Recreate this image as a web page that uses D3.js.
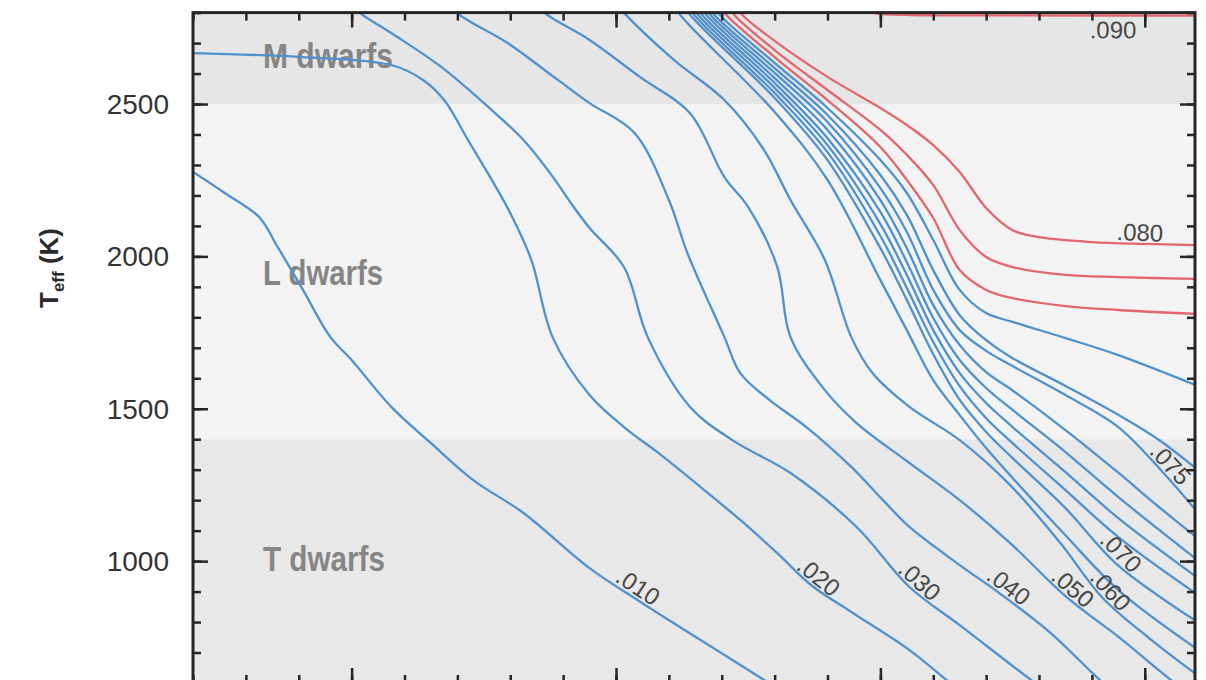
<!DOCTYPE html>
<html>
<head>
<meta charset="utf-8">
<script src="https://cdn.jsdelivr.net/npm/d3@7"></script>
<style>
  html, body { margin: 0; padding: 0; background: #ffffff; }
  svg { display: block; }
  text { font-family: "Liberation Sans", Arial, Helvetica, sans-serif; }
</style>
</head>
<body>
<svg id="chart" width="1206" height="680"></svg>
<script>
// Cooling tracks: effective temperature (K) against log10(age / yr),
// one track per mass (in solar masses).

const t010 = [[6.40,2277],[6.52,2208],[6.65,2129],[6.72,2031],[6.81,1899],[6.92,1735],[7.00,1660],[7.15,1506],[7.30,1387],[7.46,1266],[7.65,1158],[7.90,977],[8.10,862],[8.32,741],[8.56,610],[8.64,566]];
const t020 = [[6.40,2667],[6.81,2654],[7.15,2628],[7.27,2579],[7.35,2513],[7.44,2382],[7.53,2251],[7.60,2142],[7.68,1988],[7.76,1735],[7.90,1545],[8.03,1440],[8.16,1355],[8.32,1243],[8.47,1135],[8.61,1026],[8.74,920],[8.89,833],[9.11,708],[9.25,610],[9.30,575]];
const t030 = [[7.00,2830],[7.03,2800],[7.15,2733],[7.34,2621],[7.53,2480],[7.65,2382],[7.75,2274],[7.84,2162],[7.90,2093],[8.03,1965],[8.12,1735],[8.28,1506],[8.44,1397],[8.66,1289],[8.91,1112],[9.11,915],[9.30,790],[9.57,610],[9.62,580]];
const t040 = [[7.38,2830],[7.40,2799],[7.59,2700],[7.78,2579],[7.90,2503],[8.07,2405],[8.20,2185],[8.27,2011],[8.41,1735],[8.47,1617],[8.58,1529],[8.72,1440],[8.89,1309],[9.01,1200],[9.11,1112],[9.30,987],[9.45,895],[9.64,767],[9.83,610],[9.88,575]];
const t050 = [[7.70,2830],[7.73,2799],[7.90,2710],[8.09,2589],[8.28,2470],[8.41,2260],[8.50,2162],[8.61,1965],[8.66,1735],[8.79,1561],[8.91,1453],[9.11,1322],[9.30,1200],[9.49,1060],[9.70,885],[9.91,745],[10.13,590],[10.20,555]];
const t060 = [[8.00,2830],[8.03,2799],[8.22,2644],[8.41,2513],[8.56,2349],[8.66,2185],[8.79,1988],[8.89,1735],[8.97,1617],[9.11,1506],[9.30,1397],[9.49,1250],[9.68,1060],[9.84,880],[10.02,745],[10.20,625]];
const t065 = [[8.22,2830],[8.236,2800],[8.6,2474],[8.8,2251],[9.0,1922],[9.1,1758],[9.2,1594],[9.3,1479],[9.4,1371],[9.5,1273],[9.7,1085],[9.9,905],[10.20,710]];
const t070 = [[8.26,2830],[8.274,2800],[8.6,2520],[8.8,2316],[9.0,2027],[9.1,1857],[9.2,1679],[9.3,1529],[9.4,1424],[9.5,1338],[9.7,1174],[9.9,985],[10.20,800]];
const t071 = [[8.275,2830],[8.289,2800],[8.6,2536],[8.8,2342],[9.0,2067],[9.1,1896],[9.2,1719],[9.3,1574],[9.4,1469],[9.5,1387],[9.7,1233],[9.9,1079],[10.20,890]];
const t072 = [[8.29,2830],[8.304,2800],[8.6,2553],[8.8,2365],[9.0,2106],[9.1,1939],[9.2,1758],[9.3,1617],[9.4,1519],[9.5,1440],[9.7,1292],[9.9,1141],[10.20,945]];
const t073 = [[8.305,2830],[8.319,2800],[8.6,2569],[8.8,2388],[9.0,2146],[9.1,1981],[9.2,1798],[9.3,1660],[9.4,1568],[9.5,1496],[9.7,1358],[9.9,1210],[10.20,1003]];
const t074 = [[8.32,2830],[8.335,2800],[8.6,2585],[8.8,2415],[9.0,2185],[9.1,2027],[9.2,1840],[9.3,1709],[9.4,1620],[9.5,1560],[9.7,1430],[9.9,1290],[10.05,1180],[10.20,1075]];
const t075 = [[8.335,2830],[8.35,2800],[8.6,2602],[8.8,2441],[9.0,2224],[9.1,2080],[9.2,1890],[9.3,1758],[9.4,1690],[9.5,1640],[9.7,1545],[9.9,1440],[10.07,1290],[10.20,1160]];
const t076 = [[8.35,2830],[8.365,2800],[8.6,2618],[8.8,2464],[9.0,2267],[9.1,2136],[9.2,1955],[9.3,1807],[9.4,1725],[9.5,1666],[9.7,1575],[9.9,1480],[10.05,1400],[10.20,1300]];
const t077 = [[8.37,2830],[8.385,2800],[8.6,2635],[8.8,2487],[9.0,2316],[9.1,2208],[9.2,2054],[9.3,1890],[9.4,1814],[9.5,1785],[9.7,1732],[9.9,1676],[10.20,1575]];
const t078 = [[8.395,2830],[8.41,2800],[8.6,2654],[8.8,2513],[9.0,2359],[9.1,2251],[9.2,2126],[9.3,1955],[9.4,1890],[9.5,1863],[9.7,1837],[9.9,1824],[10.20,1811]];
const t079 = [[8.425,2830],[8.44,2800],[8.6,2677],[8.8,2546],[9.0,2415],[9.1,2333],[9.2,2234],[9.3,2086],[9.4,1998],[9.5,1965],[9.7,1939],[9.9,1932],[10.20,1926]];
const t080 = [[8.455,2830],[8.47,2800],[8.6,2707],[8.8,2589],[9.0,2487],[9.1,2431],[9.2,2365],[9.3,2277],[9.4,2159],[9.5,2086],[9.6,2063],[9.8,2047],[10.0,2041],[10.20,2037]];
const t090 = [[8.80,2900],[8.95,2805],[9.10,2793],[9.50,2791],[10.20,2790]];

const masses   = [0.010, 0.020, 0.030, 0.040, 0.050, 0.060, 0.065, 0.070, 0.071, 0.072, 0.073, 0.074, 0.075, 0.076, 0.077, 0.078, 0.079, 0.080, 0.090];
const tracks   = [t010, t020, t030, t040, t050, t060, t065, t070, t071, t072, t073, t074, t075, t076, t077, t078, t079, t080, t090];
const burnsH   = [false, false, false, false, false, false, false, false, false, false, false, false, false, false, false, true, true, true, true];

// Mass labels and the age at which each sits on its track
const labelMass = [0.010, 0.020, 0.030, 0.040, 0.050, 0.060, 0.070, 0.075, 0.080, 0.090];
const labelAge  = [8.06, 8.74, 9.12, 9.46, 9.70, 9.84, 9.88, 10.066, 9.98, 9.88];
const labelSide = [-1, -1, -1, -1, -1, -1, -1, -1, -1, 1];

// Spectral-class temperature bands
const bandName  = ["M dwarfs", "L dwarfs", "T dwarfs"];
const bandTop   = [2800, 2500, 1400];
const bandBot   = [2500, 1400, 600];
const bandFill  = ["#e6e6e6", "#f3f3f3", "#e8e8e8"];
const bandTextT = [2618, 1905, 968];

const yMajor = [1000, 1500, 2000, 2500];
const yMinor = d3.range(600, 2801, 100);
const xMajor = [7, 8, 9, 10];
const xMinor = d3.range(6.4, 10.2, 0.2).map(v => +v.toFixed(1));

const svg = d3.select("#chart");
const L = 193, R = 1195, T = 12.6, B = 683;

const x = d3.scaleLinear().domain([6.4, 10.19]).range([L, R]);
const y = d3.scaleLinear().domain([600, 2800]).range([B, T]);

svg.append("defs").append("clipPath").attr("id", "plot")
  .append("rect").attr("x", L).attr("y", T).attr("width", R - L).attr("height", B - T);

// bands
svg.append("g").selectAll("rect").data(bandName).join("rect")
  .attr("x", L).attr("width", R - L)
  .attr("y", (d, i) => y(bandTop[i]))
  .attr("height", (d, i) => y(bandBot[i]) - y(bandTop[i]))
  .attr("fill", (d, i) => bandFill[i]);

svg.append("g").selectAll("text").data(bandName).join("text")
  .attr("x", 263).attr("y", (d, i) => y(bandTextT[i]))
  .attr("font-size", 35).attr("font-weight", "bold").attr("fill", "#858585")
  .attr("textLength", (d, i) => [130, 120, 122][i]).attr("lengthAdjust", "spacingAndGlyphs")
  .text(d => d);

// tracks
const line = d3.line().x(d => x(d[0])).y(d => y(d[1])).curve(d3.curveCatmullRom.alpha(0.5));
svg.append("g").attr("clip-path", "url(#plot)")
  .selectAll("path").data(tracks).join("path")
  .attr("d", line)
  .attr("fill", "none")
  .attr("stroke", (d, i) => burnsH[i] ? "#e3666c" : "#4f91cc")
  .attr("stroke-width", 2.3)
  .attr("stroke-linejoin", "round");

// mass labels along the tracks
function tempAt(track, a) {
  for (let k = 0; k < track.length - 1; k++) {
    const p = track[k], q = track[k + 1];
    if (a >= p[0] && a <= q[0]) return p[1] + (q[1] - p[1]) * (a - p[0]) / (q[0] - p[0]);
  }
  return track[track.length - 1][1];
}
const fmt = m => d3.format(".3f")(m).replace(/^0/, "");
svg.append("g").selectAll("text").data(labelMass).join("text")
  .each(function (m, i) {
    const tr = tracks[masses.indexOf(m)];
    const a = labelAge[i];
    const px = x(a), py = y(tempAt(tr, a));
    const dx = x(a + 0.04) - x(a - 0.04);
    const dy = y(tempAt(tr, a + 0.04)) - y(tempAt(tr, a - 0.04));
    const ang = Math.atan2(dy, dx) * 180 / Math.PI;
    d3.select(this)
      .attr("transform", `translate(${px},${py}) rotate(${ang})`)
      .attr("text-anchor", "middle")
      .attr("dy", labelSide[i] < 0 ? "-0.12em" : "0.95em")
      .attr("font-size", 24).attr("fill", "#474747")
      .text(fmt(m));
  });

// frame and ticks (pointing inward on all four sides)
function ticks(axis, tr, vals, len) {
  const g = svg.append("g").attr("transform", tr)
    .call(axis.tickValues(vals).tickSize(len).tickFormat(""));
  g.select(".domain").remove();
  g.selectAll("line").attr("stroke", "#262626").attr("stroke-width", 2.5);
  return g;
}
ticks(d3.axisLeft(y), `translate(${L},0)`, yMinor, -8);
ticks(d3.axisLeft(y), `translate(${L},0)`, yMajor, -15);
ticks(d3.axisRight(y), `translate(${R},0)`, yMinor, -8);
ticks(d3.axisRight(y), `translate(${R},0)`, yMajor, -15);
ticks(d3.axisBottom(x), `translate(0,${B})`, xMinor, -8);
ticks(d3.axisBottom(x), `translate(0,${B})`, xMajor, -15);
ticks(d3.axisTop(x), `translate(0,${T})`, xMinor, -8);
ticks(d3.axisTop(x), `translate(0,${T})`, xMajor, -15);

svg.append("rect").attr("x", L).attr("y", T).attr("width", R - L).attr("height", B - T)
  .attr("fill", "none").attr("stroke", "#262626").attr("stroke-width", 3);

// y tick labels
svg.append("g").selectAll("text").data(yMajor).join("text")
  .attr("x", 169).attr("y", d => y(d)).attr("dy", "0.36em")
  .attr("text-anchor", "end").attr("font-size", 28).attr("fill", "#333")
  .text(d => d);

// y title
const yt = svg.append("text")
  .attr("transform", "translate(58,268) rotate(-90)")
  .attr("text-anchor", "middle").attr("font-size", 26).attr("font-weight", "bold").attr("fill", "#2a2a2a");
yt.append("tspan").text("T");
yt.append("tspan").attr("font-size", 17).attr("dy", 6).text("eff");
yt.append("tspan").attr("dy", -6).text(" (K)");
</script>
</body>
</html>
